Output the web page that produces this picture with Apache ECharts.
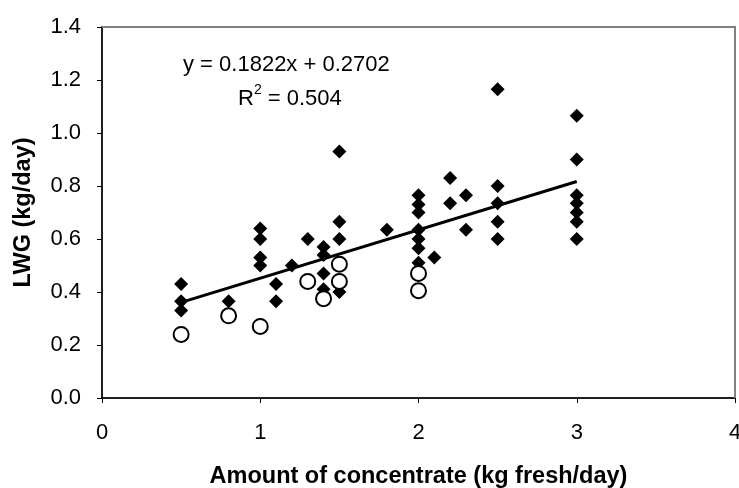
<!DOCTYPE html>
<html>
<head>
<meta charset="utf-8">
<script src="https://cdn.jsdelivr.net/npm/echarts@6/dist/echarts.min.js"></script>
<style>
html,body{margin:0;padding:0;background:#fff;}
#c{width:739px;height:488px;}
</style>
</head>
<body>
<div id="c"></div>
<script>
// Filled diamonds: [concentrate kg/day, LWG kg/day]
var diamondPoints = [
  [0.5,0.43],[0.5,0.365],[0.5,0.33],
  [0.8,0.365],
  [1.0,0.64],[1.0,0.60],[1.0,0.53],[1.0,0.50],
  [1.1,0.43],[1.1,0.365],
  [1.2,0.50],
  [1.3,0.60],
  [1.4,0.57],[1.4,0.54],[1.4,0.47],[1.4,0.41],
  [1.5,0.93],[1.5,0.665],[1.5,0.60],[1.5,0.40],
  [1.8,0.635],
  [2.0,0.765],[2.0,0.73],[2.0,0.70],[2.0,0.635],[2.0,0.60],[2.0,0.565],[2.0,0.51],
  [2.1,0.53],
  [2.2,0.83],[2.2,0.735],
  [2.3,0.765],[2.3,0.635],
  [2.5,1.165],[2.5,0.80],[2.5,0.735],[2.5,0.665],[2.5,0.60],
  [3.0,1.065],[3.0,0.90],[3.0,0.765],[3.0,0.735],[3.0,0.70],[3.0,0.665],[3.0,0.60]
];
// Open circles
var circlePoints = [
  [0.5,0.24],[0.8,0.31],[1.0,0.27],[1.3,0.44],[1.4,0.375],
  [1.5,0.505],[1.5,0.44],[2.0,0.47],[2.0,0.405]
];
// Trend line endpoints (y = 0.1822x + 0.2702)
var trendLine = [[0.5,0.361],[3.0,0.817]];
var xRange = [0, 4];
var yRange = [0, 1.4];
var equationText = 'y = 0.1822x + 0.2702';
var r2Text = '0.504';
var xTitle = 'Amount of concentrate (kg fresh/day)';
var yTitle = 'LWG (kg/day)';

var FONT = '"Liberation Sans", Arial, sans-serif';
var chart = echarts.init(document.getElementById('c'), null, {renderer:'canvas'});
chart.setOption({
  animation:false,
  backgroundColor:'#fff',
  grid:{left:102,right:4,top:27,bottom:90,containLabel:false,outerBoundsMode:'none',
        show:true,borderColor:'#808080',borderWidth:2,backgroundColor:'rgba(0,0,0,0)'},
  xAxis:{
    type:'value',min:xRange[0],max:xRange[1],interval:1,
    name:xTitle,nameLocation:'middle',nameGap:67,
    nameTextStyle:{fontFamily:FONT,fontWeight:'bold',fontSize:23.5,color:'#000'},
    axisLine:{show:true,onZero:false,lineStyle:{color:'#000',width:1.5}},
    axisTick:{show:true,inside:false,length:5,lineStyle:{color:'#000'}},
    axisLabel:{margin:24,fontFamily:FONT,fontSize:22,color:'#000'},
    splitLine:{show:false},z:3
  },
  yAxis:{
    type:'value',min:yRange[0],max:yRange[1],interval:0.2,
    name:yTitle,nameLocation:'middle',nameGap:66,nameRotate:90,
    nameTextStyle:{fontFamily:FONT,fontWeight:'bold',fontSize:23.5,color:'#000'},
    axisLine:{show:true,onZero:false,lineStyle:{color:'#000',width:1.5}},
    axisTick:{show:true,inside:false,length:5,lineStyle:{color:'#000'}},
    axisLabel:{margin:21,fontFamily:FONT,fontSize:22,color:'#000',formatter:function(v){return v.toFixed(1);}},
    splitLine:{show:false},z:3
  },
  series:[{
    type:'line',data:trendLine,symbol:'none',
    lineStyle:{color:'#000',width:3},z:3
  },{
    type:'scatter',data:diamondPoints,symbol:'diamond',symbolSize:14,
    itemStyle:{color:'#000',opacity:1},z:4
  },{
    type:'scatter',data:circlePoints,symbol:'circle',symbolSize:15,
    itemStyle:{color:'#fff',borderColor:'#000',borderWidth:2,opacity:1},z:5
  }]
});
// Plot frame (top and right edges), positioned through the chart's own scales
var tl = chart.convertToPixel({gridIndex:0}, [xRange[0], yRange[1]]);
var tr = chart.convertToPixel({gridIndex:0}, [xRange[1], yRange[1]]);
var br = chart.convertToPixel({gridIndex:0}, [xRange[1], yRange[0]]);
chart.setOption({
  graphic:[{
    id:'frameTop', type:'line', z:10, silent:true,
    shape:{x1:tl[0], y1:tl[1], x2:tr[0], y2:tr[1]},
    style:{stroke:'#808080', lineWidth:2}
  },{
    id:'frameRight', type:'line', z:10, silent:true,
    shape:{x1:tr[0], y1:tr[1], x2:br[0], y2:br[1]},
    style:{stroke:'#808080', lineWidth:2}
  },{
    id:'eq', type:'text',left:183,top:54,
    style:{text:equationText,font:'22px '+FONT,fill:'#000'}
  },{
    id:'r2', type:'text',left:238,top:83,
    style:{
      text:'{b|R}{s|2}{b| = '+r2Text+'}',
      rich:{
        b:{fontFamily:FONT,fontSize:22,color:'#000',verticalAlign:'bottom',lineHeight:27},
        s:{fontFamily:FONT,fontSize:14,color:'#000',verticalAlign:'top',lineHeight:27,padding:[0,0,10,0]}
      }
    }
  }]
});
</script>
</body>
</html>
